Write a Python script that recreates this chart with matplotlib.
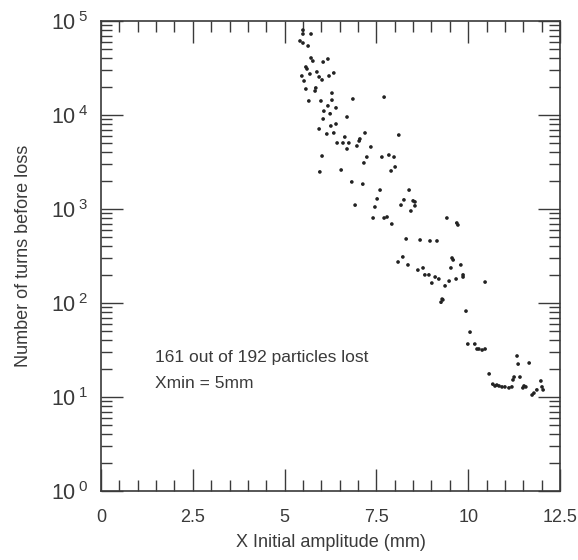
import numpy as np
import matplotlib
matplotlib.use("Agg")
import matplotlib.pyplot as plt
from matplotlib.ticker import FixedLocator, LogLocator, FuncFormatter, MultipleLocator

plt.rcParams['font.family'] = ['Liberation Sans', 'DejaVu Sans']
plt.rcParams['mathtext.fontset'] = 'custom'
plt.rcParams['mathtext.rm'] = 'Liberation Sans'
plt.rcParams['mathtext.it'] = 'Liberation Sans'

# Initial amplitude (mm) and number of turns before loss
amplitude = [
    5.50, 5.50, 5.72, 5.42, 5.50, 5.64, 5.72, 5.77, 6.05, 6.18,
    5.58, 5.61, 5.88, 5.69, 5.94, 6.02, 6.34, 6.21, 5.47, 5.53,
    5.85, 5.83, 5.58, 6.29, 5.66, 5.99, 6.29, 6.86, 7.71, 6.18,
    6.40, 6.07, 6.24, 6.05, 6.70, 6.40, 6.26, 5.94, 6.15, 6.34,
    7.19, 8.11, 6.64, 7.05, 7.03, 6.43, 6.59, 6.75, 7.35, 6.97,
    6.70, 6.02, 7.24, 7.65, 7.84, 7.98, 7.16, 8.01, 7.90, 5.96,
    6.54, 6.83, 7.13, 7.60, 8.39, 7.52, 8.25, 8.50, 8.55, 8.17,
    8.55, 6.92, 7.46, 8.44, 7.41, 7.71, 7.79, 7.92, 9.42, 9.69,
    9.72, 8.31, 8.69, 8.96, 9.15, 8.22, 8.09, 8.36, 9.59, 9.56,
    9.80, 8.77, 8.63, 9.53, 8.82, 8.93, 9.10, 9.20, 9.86, 9.86,
    9.67, 9.48, 9.01, 9.37, 10.46, 9.29, 9.26, 9.31, 9.94, 10.05,
    9.99, 10.18, 10.24, 10.29, 10.38, 10.46, 11.33, 11.36, 11.66, 10.57,
    11.41, 11.25, 11.22, 11.98, 10.67, 10.73, 10.78, 10.84, 10.92, 11.00,
    11.11, 11.19, 11.52, 11.57, 11.49, 12.01, 12.04, 11.87, 11.79, 11.74,
]
turns = [
    80000, 72700, 72700, 61300, 58300, 54200, 40400, 37500, 36600, 39400,
    32400, 30900, 28700, 27300, 25400, 23600, 28000, 26000, 26000, 23000,
    19400, 18000, 18900, 17100, 14100, 14100, 14400, 14800, 15500, 12500,
    11900, 11000, 10300, 9070, 9520, 8020, 7640, 7100, 6280, 6440,
    6440, 6120, 5830, 5560, 5290, 5040, 5040, 5040, 4570, 4680,
    4350, 3660, 3570, 3570, 3750, 3570, 3090, 2800, 2540, 2480,
    2600, 1940, 1840, 1590, 1590, 1280, 1250, 1220, 1190, 1100,
    1080, 1100, 1050, 952, 802, 802, 822, 692, 802, 710,
    676, 480, 468, 457, 457, 309, 273, 254, 287, 301,
    254, 236, 224, 236, 199, 199, 189, 180, 199, 189,
    180, 171, 163, 152, 167, 110, 102, 108, 82, 49,
    36.6, 36.6, 32.4, 32.4, 31.6, 32.4, 27.3, 22.4, 23.0, 17.6,
    16.3, 16.3, 15.2, 14.8, 13.7, 13.1, 13.4, 13.1, 12.8, 12.8,
    12.5, 12.8, 13.1, 12.8, 12.5, 12.8, 11.9, 11.9, 11.0, 10.5,
]
x_ticks = [0, 2.5, 5, 7.5, 10, 12.5]
x_tick_labels = ["0", "2.5", "5", "7.5", "10", "12.5"]
y_decades = [1, 10, 100, 1000, 10000, 100000]
annotation_lines = ["161 out of 192 particles lost", "Xmin = 5mm"]

W, H = 578, 560
fig = plt.figure(figsize=(W / 100, H / 100), dpi=100)
ax = fig.add_axes([101 / W, 1 - 491 / H, 459 / W, 470 / H])

ink = '#3a3a3a'
ax.scatter(amplitude, turns, s=7, color='#222222', edgecolors='none', zorder=3)

ax.set_yscale('log')
ax.set_xlim(0, 12.5)
ax.set_ylim(1, 1e5)

ax.xaxis.set_major_locator(FixedLocator(x_ticks))
ax.set_xticklabels(x_tick_labels)
ax.xaxis.set_minor_locator(MultipleLocator(0.5))
ax.yaxis.set_major_locator(FixedLocator(y_decades))
ax.yaxis.set_minor_locator(LogLocator(base=10, subs=np.arange(2, 10)))
ax.yaxis.set_major_formatter(FuncFormatter(
    lambda v, p: r'$\mathregular{10^{\;%d}}$' % int(round(np.log10(v)))))
ax.yaxis.set_minor_formatter(FuncFormatter(lambda v, p: ''))

ax.tick_params(which='both', direction='in', top=True, right=True, color=ink, width=1.0)
ax.tick_params(which='major', length=16)
ax.tick_params(which='minor', length=8)
ax.tick_params(axis='x', which='major', pad=13, labelsize=13, labelcolor=ink)
ax.tick_params(axis='y', which='major', pad=9, labelsize=15.5, labelcolor=ink)

for s in ax.spines.values():
    s.set_color(ink)
    s.set_linewidth(1.2)

ax.set_xlabel("X Initial amplitude (mm)", fontsize=13, color=ink, labelpad=6)
ax.set_ylabel("Number of turns before loss", fontsize=13, color=ink, labelpad=14)

ax.text(0.118, 0.285, annotation_lines[0], transform=ax.transAxes, fontsize=12.5,
        color=ink, va='center', ha='left')
ax.text(0.118, 0.228, annotation_lines[1], transform=ax.transAxes, fontsize=12.5,
        color=ink, va='center', ha='left')

fig.savefig("out.png", dpi=100)
